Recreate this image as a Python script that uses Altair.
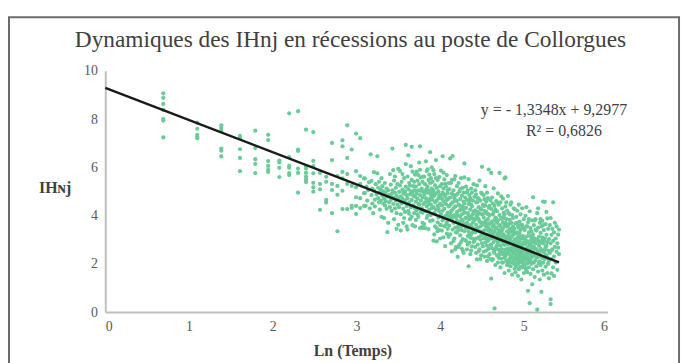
import altair as alt
import pandas as pd

# ---------------- data ----------------
# early recession days: x = Ln(Temps) for t = 2 .. 22, with the IHnj values of each column
col_x = [0.693, 1.099, 1.386, 1.609, 1.792, 1.946, 2.079, 2.197, 2.303, 2.398, 2.485,
         2.565, 2.639, 2.708, 2.773, 2.833, 2.890, 2.944, 2.996, 3.045, 3.091]
col_y = [
    [9.07, 8.88, 8.63, 8.38, 8.00, 7.94, 7.24],
    [7.85, 7.60, 7.35, 7.27, 7.21],
    [7.74, 7.63, 7.52, 6.78, 6.69, 6.45],
    [7.30, 7.21, 6.75, 6.39, 5.84],
    [7.52, 6.80, 6.34, 6.14, 5.76],
    [7.35, 7.13, 6.26, 6.06, 5.90, 5.81],
    [6.28, 6.20, 5.98, 5.60],
    [8.24, 6.42, 6.06, 5.98, 5.76, 5.68],
    [8.33, 6.73, 6.68, 5.95, 5.77, 4.95],
    [7.56, 6.05, 5.95, 5.77, 5.61, 5.50, 5.39],
    [7.46, 6.27, 6.05, 5.75, 5.36, 5.17, 4.99],
    [5.77, 5.31, 5.09, 4.24],
    [5.61, 5.40, 4.65, 4.54],
    [7.01, 6.30, 5.31, 5.06, 4.10],
    [5.64, 5.23, 4.86, 3.35],
    [7.12, 6.87, 5.81, 5.54, 5.03, 4.27],
    [7.74, 6.39, 5.72, 5.31, 4.27],
    [6.74, 5.23, 4.40, 4.32],
    [7.40, 5.84, 5.17, 4.76, 4.40, 4.07],
    [7.21, 5.64, 5.31, 4.72, 4.31],
    [5.54, 4.93, 4.40],
]

# dense cloud (Ln(Temps), IHnj) pairs, read band by band
cloud_31 = [(3.10,5.54),(3.10,4.93),(3.11,4.40),(3.12,5.20),(3.13,4.62),(3.14,5.05),(3.15,5.38),(3.16,4.30),
            (3.17,6.54),(3.18,5.44),(3.18,4.85),(3.19,5.12),(3.19,4.50),(3.20,4.10),
            (3.21,5.80),(3.21,5.02),(3.22,4.66),(3.22,4.38),(3.23,5.30),(3.24,4.88),(3.25,6.46),(3.25,5.75),
            (3.26,5.15),(3.26,4.72),(3.27,4.55),(3.27,5.40),(3.28,4.96),(3.28,4.25),(3.29,5.08),(3.29,4.62),
            (3.30,5.55),(3.30,3.95)]
cloud_33 = [(3.31,4.82),(3.31,5.22),(3.32,4.50),(3.32,5.00),(3.33,4.70),(3.33,3.90),(3.34,5.35),(3.34,4.42),
            (3.35,4.95),(3.35,4.60),(3.36,5.12),(3.36,4.28),(3.37,3.31),(3.37,4.78),(3.38,5.05),(3.38,3.70),
            (3.39,4.55),(3.39,4.85),(3.40,5.72),(3.40,4.35),
            (3.41,5.28),(3.41,4.65),(3.42,4.90),(3.42,4.20),(3.43,6.78),(3.43,5.05),(3.44,4.48),(3.44,4.75),
            (3.45,5.45),(3.45,3.85),(3.46,4.95),(3.46,4.30),(3.47,5.15),(3.47,4.62),(3.48,4.82),(3.48,4.10),
            (3.49,5.30),(3.49,4.45),(3.50,5.94),(3.50,4.70),(3.50,3.62),(3.46,5.62),(3.44,5.88),(3.48,3.45)]
cloud_35 = [(3.51,4.98),(3.51,4.35),(3.52,5.25),(3.52,4.60),(3.53,4.80),(3.53,4.05),(3.54,5.40),(3.54,4.50),
            (3.55,5.08),(3.55,4.70),(3.56,4.28),(3.56,3.70),(3.57,5.55),(3.57,4.90),(3.58,4.62),(3.58,4.15),
            (3.59,6.93),(3.59,6.13),(3.59,5.20),(3.60,4.85),(3.60,4.40),(3.60,3.55),(3.55,5.72),(3.53,3.38),
            (3.57,3.90),(3.52,5.85),(3.58,5.00),(3.56,4.95),
            (3.61,5.62),(3.61,4.72),(3.62,5.10),(3.62,4.20),(3.63,5.35),(3.63,4.55),(3.64,4.88),(3.64,3.85),
            (3.65,6.05),(3.65,5.00),(3.65,4.35),(3.66,5.48),(3.66,4.65),(3.67,5.82),(3.67,4.95),(3.67,3.60),
            (3.68,5.22),(3.68,4.42),(3.69,5.05),(3.69,4.10),(3.70,5.70),(3.70,4.78),(3.70,3.55),(3.62,6.50),
            (3.64,5.25),(3.66,3.95),(3.68,4.82),(3.63,4.08),(3.69,5.40),(3.61,3.42),(3.66,6.85),(3.70,4.30)]
cloud_37 = [(3.71,5.20),(3.71,4.58),(3.72,5.82),(3.72,4.90),(3.72,4.22),(3.73,5.45),(3.73,4.70),(3.74,5.05),
            (3.74,3.95),(3.75,6.20),(3.75,5.30),(3.75,4.45),(3.76,6.87),(3.76,4.85),(3.76,3.48),(3.77,5.58),
            (3.77,4.62),(3.78,5.12),(3.78,4.30),(3.79,5.40),(3.79,4.75),(3.79,3.70),(3.80,5.00),(3.80,4.48),
            (3.71,3.82),(3.73,4.05),(3.74,5.68),(3.76,5.90),(3.77,4.15),(3.78,3.52),(3.80,5.62),(3.80,3.48),
            (3.74,4.48),(3.77,5.02),(3.79,4.12),(3.72,5.00),
            (3.81,5.61),(3.81,4.88),(3.81,4.20),(3.82,5.30),(3.82,4.55),(3.82,3.48),(3.83,5.05),(3.83,4.72),
            (3.84,5.85),(3.84,4.38),(3.84,3.90),(3.85,5.20),(3.85,4.62),(3.86,5.48),(3.86,4.95),(3.86,3.44),
            (3.87,5.02),(3.87,4.25),(3.88,6.63),(3.88,5.35),(3.88,4.70),(3.89,4.45),(3.89,4.02),(3.90,6.00),
            (3.90,5.12),(3.90,4.80),(3.83,6.25),(3.85,4.00),(3.87,5.70),(3.89,5.55),(3.82,4.95),(3.86,4.48),
            (3.88,3.78),(3.84,5.10),(3.90,4.30),(3.81,3.65),(3.85,5.92),(3.87,4.60),(3.83,4.18),(3.89,4.88)]
cloud_39 = [(3.91,5.40),(3.91,4.65),(3.91,3.80),(3.92,5.05),(3.92,4.35),(3.92,2.96),(3.93,5.72),(3.93,4.82),
            (3.93,4.10),(3.94,5.25),(3.94,4.55),(3.94,3.55),(3.95,6.30),(3.95,4.92),(3.95,4.25),(3.96,5.15),
            (3.96,4.62),(3.96,2.93),(3.97,5.48),(3.97,4.40),(3.97,3.35),(3.98,5.00),(3.98,4.72),(3.98,3.92),
            (3.99,5.60),(3.99,4.18),(4.00,5.22),(4.00,4.50),(4.00,3.62),(3.91,4.95),(3.93,3.22),(3.95,5.55),
            (3.97,3.72),(3.99,4.85),(3.92,5.88),(3.94,4.05),(3.96,3.48),(3.98,4.30),(4.00,3.05),(3.99,3.40),
            (4.01,5.86),(4.01,4.85),(4.01,4.05),(4.02,5.30),(4.02,4.42),(4.02,3.38),(4.03,6.46),(4.03,4.95),
            (4.03,3.80),(4.04,5.12),(4.04,4.60),(4.04,3.10),(4.05,5.50),(4.05,4.28),(4.05,3.55),(4.06,4.78),
            (4.06,3.95),(4.06,2.73),(4.07,5.20),(4.07,4.48),(4.07,3.62),(4.08,5.68),(4.08,4.65),(4.08,3.25),
            (4.09,4.92),(4.09,4.12),(4.09,3.45),(4.10,5.35),(4.10,4.38),(4.10,3.85),(4.02,4.70),(4.04,3.92),
            (4.06,5.32),(4.08,4.02),(4.10,3.12),(4.03,4.20),(4.05,4.88),(4.07,4.00),(4.09,5.05),(4.01,3.60),
            (4.04,5.78),(4.06,4.50),(4.08,3.72),(4.10,4.70)]
cloud_41 = [(4.11,5.10),(4.11,4.40),(4.11,3.58),(4.12,6.37),(4.12,4.75),(4.12,3.22),(4.13,5.35),(4.13,4.18),
            (4.13,2.85),(4.14,4.92),(4.14,3.88),(4.14,2.52),(4.15,6.47),(4.15,4.55),(4.15,3.42),(4.16,5.05),
            (4.16,4.30),(4.16,3.70),(4.17,5.50),(4.17,4.02),(4.17,3.05),(4.18,5.64),(4.18,4.62),(4.18,3.50),
            (4.19,4.85),(4.19,3.92),(4.19,2.70),(4.20,5.22),(4.20,4.15),(4.20,3.30),(4.12,4.05),(4.14,5.48),
            (4.16,2.95),(4.18,4.38),(4.20,3.78),(4.11,3.95),(4.13,4.48),(4.15,3.98),(4.17,4.72),(4.19,3.30),
            (4.14,4.22),(4.16,4.85),(4.18,2.60),(4.20,4.60),
            (4.21,4.90),(4.21,4.02),(4.21,2.29),(4.22,5.35),(4.22,4.45),(4.22,3.40),(4.23,5.00),(4.23,3.75),
            (4.23,2.80),(4.24,4.68),(4.24,3.95),(4.24,3.18),(4.25,5.55),(4.25,4.25),(4.25,3.55),(4.26,4.82),
            (4.26,3.82),(4.26,2.62),(4.27,5.15),(4.27,4.38),(4.27,3.02),(4.28,4.58),(4.28,3.65),(4.28,2.45),
            (4.29,6.16),(4.29,5.58),(4.29,4.12),(4.29,3.35),(4.30,4.75),(4.30,3.90),(4.30,2.98),(4.22,3.60),
            (4.24,4.40),(4.26,4.05),(4.28,4.95),(4.21,3.50),(4.23,4.22),(4.25,2.90),(4.27,3.78),(4.29,4.50),
            (4.22,2.70),(4.24,5.10),(4.26,3.40),(4.28,4.25),(4.30,3.55),(4.27,2.55)]
cloud_43 = [(4.31,5.20),(4.31,4.32),(4.31,3.48),(4.32,4.65),(4.32,3.72),(4.32,2.60),(4.33,5.05),(4.33,4.10),
            (4.33,3.15),(4.34,5.51),(4.34,4.48),(4.34,1.90),(4.35,4.85),(4.35,3.85),(4.35,2.88),(4.36,4.25),
            (4.36,3.60),(4.36,2.40),(4.37,5.12),(4.37,3.95),(4.37,3.22),(4.38,4.95),(4.38,4.38),(4.38,2.72),
            (4.39,4.62),(4.39,3.70),(4.39,3.05),(4.40,5.30),(4.40,4.18),(4.40,3.40),(4.31,3.90),(4.33,2.80),
            (4.35,4.60),(4.37,2.55),(4.39,4.05),(4.32,4.95),(4.34,3.35),(4.36,4.72),(4.38,3.52),(4.40,2.90),
            (4.31,2.95),(4.33,3.62),(4.35,3.25),(4.37,4.45),(4.39,3.30),(4.34,4.00),(4.36,3.08),(4.38,3.88),
            (4.41,4.78),(4.41,3.80),(4.41,2.95),(4.42,5.05),(4.42,4.22),(4.42,3.30),(4.43,4.55),(4.43,3.62),
            (4.43,2.45),(4.44,5.25),(4.44,4.02),(4.44,2.18),(4.45,4.72),(4.45,3.45),(4.45,2.80),(4.46,4.35),
            (4.46,3.85),(4.46,3.10),(4.47,5.45),(4.47,4.08),(4.47,2.60),(4.48,4.62),(4.48,3.55),(4.48,3.00),
            (4.49,4.25),(4.49,3.72),(4.49,2.35),(4.50,6.02),(4.50,4.90),(4.50,3.35),(4.41,4.15),(4.43,4.88),
            (4.45,4.15),(4.47,3.35),(4.49,4.95),(4.42,2.70),(4.44,3.48),(4.46,2.52),(4.48,4.30),(4.50,2.85),
            (4.41,3.45),(4.43,3.05),(4.45,3.90),(4.47,3.75),(4.49,3.18),(4.42,3.88),(4.44,4.55),(4.46,4.70),
            (4.48,2.20),(4.50,4.05)]
cloud_45 = [(4.51,4.45),(4.51,3.62),(4.51,2.72),(4.52,4.85),(4.52,3.92),(4.52,3.05),(4.53,4.20),(4.53,3.40),
            (4.53,2.30),(4.54,5.22),(4.54,3.78),(4.54,2.88),(4.55,4.58),(4.55,3.55),(4.55,2.55),(4.56,4.08),
            (4.56,3.22),(4.56,2.12),(4.57,4.72),(4.57,3.85),(4.57,2.95),(4.58,5.91),(4.58,4.32),(4.58,3.48),
            (4.59,4.00),(4.59,3.12),(4.59,2.40),(4.60,4.62),(4.60,3.70),(4.60,2.78),(4.52,4.40),(4.54,4.42),
            (4.56,4.95),(4.58,2.62),(4.60,3.30),(4.51,3.25),(4.53,3.70),(4.55,3.05),(4.57,3.40),(4.59,3.65),
            (4.52,2.50),(4.54,3.15),(4.56,3.68),(4.58,4.05),(4.60,2.20),(4.51,4.05),(4.53,4.68),(4.55,4.15),
            (4.57,2.30),(4.59,4.40),(4.56,2.75),(4.58,3.00),
            (4.61,5.77),(4.61,4.28),(4.61,3.40),(4.61,1.39),(4.62,4.75),(4.62,3.75),(4.62,2.65),(4.63,4.05),
            (4.63,3.20),(4.63,2.20),(4.64,5.13),(4.64,3.62),(4.64,2.90),(4.65,4.40),(4.65,3.35),(4.65,0.15),
            (4.65,2.45),(4.66,3.92),(4.66,3.05),(4.66,1.95),(4.67,4.60),(4.67,3.50),(4.67,2.70),(4.68,4.18),
            (4.68,3.15),(4.68,2.35),(4.69,3.80),(4.69,2.88),(4.69,2.05),(4.70,4.45),(4.70,3.40),(4.70,2.58),
            (4.62,3.05),(4.63,4.50),(4.64,2.50),(4.66,4.25),(4.67,3.00),(4.68,3.70),(4.70,3.00),(4.61,2.80),
            (4.62,2.15),(4.63,3.55),(4.64,4.15),(4.65,3.80),(4.66,2.60),(4.67,3.88),(4.68,2.75),(4.69,4.92),
            (4.70,2.25),(4.64,3.25),(4.66,3.45),(4.68,4.55),(4.69,3.25)]
cloud_47 = [(4.71,5.77),(4.71,4.02),(4.71,3.18),(4.71,2.40),(4.72,4.55),(4.72,3.55),(4.72,2.75),(4.72,1.85),
            (4.73,3.90),(4.73,3.05),(4.73,2.22),(4.74,4.30),(4.74,3.40),(4.74,2.60),(4.75,4.70),(4.75,3.70),
            (4.75,2.90),(4.75,2.05),(4.76,4.12),(4.76,3.22),(4.76,2.45),(4.77,5.54),(4.77,3.58),(4.77,2.78),
            (4.77,1.62),(4.78,5.58),(4.78,4.38),(4.78,3.02),(4.78,2.30),(4.79,3.85),(4.79,2.95),(4.79,2.12),
            (4.80,4.21),(4.80,3.35),(4.80,2.62),(4.80,1.95),(4.71,2.95),(4.72,3.30),(4.73,4.80),(4.74,2.05),
            (4.75,3.15),(4.76,2.82),(4.77,4.05),(4.78,2.58),(4.79,3.55),(4.80,2.88),(4.71,3.60),(4.72,2.48),
            (4.73,3.35),(4.74,3.85),(4.75,2.40),(4.76,3.95),(4.77,2.25),(4.78,3.70),(4.79,2.40),(4.80,3.10),
            (4.73,2.60),(4.75,3.45),(4.77,3.12),(4.79,4.55),
            (4.81,4.81),(4.81,3.60),(4.81,2.80),(4.81,2.02),(4.82,4.10),(4.82,3.25),(4.82,2.45),(4.82,1.72),
            (4.83,3.82),(4.83,2.98),(4.83,2.20),(4.84,4.45),(4.84,3.45),(4.84,2.65),(4.84,1.90),(4.85,3.70),
            (4.85,2.88),(4.85,2.32),(4.86,4.02),(4.86,3.15),(4.86,2.55),(4.86,1.55),(4.87,3.55),(4.87,2.75),
            (4.87,2.08),(4.88,4.30),(4.88,3.30),(4.88,2.42),(4.89,4.27),(4.89,3.00),(4.89,2.18),(4.89,1.80),
            (4.90,3.68),(4.90,2.85),(4.90,2.30),(4.81,3.15),(4.82,2.85),(4.83,3.45),(4.84,3.05),(4.85,2.55),
            (4.86,2.90),(4.87,3.20),(4.88,2.65),(4.89,2.55),(4.90,3.25),(4.81,2.50),(4.82,2.15),(4.83,2.60),
            (4.84,2.35),(4.85,2.05),(4.86,2.25),(4.87,2.48),(4.88,2.00),(4.89,2.75),(4.90,2.00),(4.83,4.05),
            (4.85,3.35),(4.87,3.90),(4.89,3.45),(4.82,3.65),(4.84,2.85),(4.86,3.40),(4.88,2.85),(4.90,1.65),
            (4.85,4.55)]
cloud_49 = [(4.91,3.95),(4.91,3.05),(4.91,2.42),(4.91,1.90),(4.92,4.20),(4.92,3.30),(4.92,2.65),(4.92,2.05),
            (4.93,3.58),(4.93,2.85),(4.93,2.25),(4.93,1.50),(4.94,4.45),(4.94,3.15),(4.94,2.50),(4.94,1.78),
            (4.95,3.75),(4.95,2.95),(4.95,2.32),(4.96,4.05),(4.96,3.40),(4.96,2.70),(4.96,2.08),(4.97,3.62),
            (4.97,2.80),(4.97,2.15),(4.97,1.35),(4.98,4.30),(4.98,3.05),(4.98,2.48),(4.98,1.85),(4.99,3.48),
            (4.99,2.60),(4.99,2.00),(5.00,3.85),(5.00,2.90),(5.00,2.35),(5.00,1.62),(4.91,2.75),(4.92,2.90),
            (4.93,2.55),(4.94,2.75),(4.95,2.58),(4.96,2.40),(4.97,2.55),(4.98,2.75),(4.99,2.85),(5.00,2.55),
            (4.91,2.20),(4.92,2.35),(4.93,2.00),(4.94,2.20),(4.95,2.10),(4.96,1.88),(4.97,2.35),(4.98,2.20),
            (4.99,2.30),(5.00,2.12),(4.92,3.70),(4.94,3.50),(4.96,3.10),(4.98,3.60),(4.95,3.25),(4.99,3.15),
            (4.93,3.10)]
cloud_51 = [(5.01,3.40),(5.01,2.62),(5.01,1.95),(5.02,3.99),(5.02,2.82),(5.02,2.18),(5.03,3.55),(5.03,2.45),
            (5.03,1.72),(5.04,3.15),(5.04,2.68),(5.04,2.02),(5.05,3.72),(5.05,2.92),(5.05,2.25),(5.05,0.88),
            (5.06,3.30),(5.06,2.55),(5.06,1.85),(5.07,4.18),(5.07,2.78),(5.07,0.37),(5.07,2.10),(5.08,3.48),
            (5.08,2.40),(5.08,1.58),(5.09,3.02),(5.09,2.65),(5.09,2.00),(5.10,3.80),(5.10,2.30),(5.10,1.15),
            (5.01,2.30),(5.02,2.55),(5.03,2.95),(5.04,2.40),(5.05,2.05),(5.06,2.88),(5.07,2.45),(5.08,2.85),
            (5.09,2.25),(5.10,2.72),(5.01,3.05),(5.03,2.20),(5.04,3.55),(5.06,2.20),(5.08,2.12),(5.09,3.35),
            (5.02,1.82),(5.04,1.65),(5.06,3.85),(5.08,3.15),(5.10,3.12),(5.05,2.60),(5.03,4.35),
            (5.11,4.76),(5.11,3.22),(5.11,2.48),(5.11,1.78),(5.12,3.60),(5.12,2.70),(5.12,2.05),(5.13,3.05),
            (5.13,2.35),(5.13,1.45),(5.14,3.85),(5.14,2.85),(5.14,2.15),(5.15,3.38),(5.15,2.60),(5.15,1.90),
            (5.16,4.10),(5.16,2.95),(5.16,0.10),(5.16,2.28),(5.17,3.50),(5.17,2.50),(5.17,1.68),(5.18,3.12),
            (5.18,2.75),(5.18,2.02),(5.19,3.70),(5.19,2.40),(5.19,1.35),(5.20,3.28),(5.20,2.62),(5.20,1.95),
            (5.12,2.95),(5.13,2.62),(5.14,3.42),(5.15,2.30),(5.17,2.95),(5.18,2.30),(5.19,2.88),(5.20,3.85),
            (5.11,2.90),(5.13,3.80),(5.15,3.00),(5.17,4.30),(5.19,2.10)]
cloud_53 = [(5.21,3.55),(5.21,2.55),(5.21,0.84),(5.22,3.10),(5.22,2.25),(5.22,1.72),(5.23,4.58),(5.23,2.85),
            (5.23,2.05),(5.24,3.40),(5.24,2.48),(5.24,1.55),(5.25,4.57),(5.25,3.05),(5.25,2.20),(5.26,3.65),
            (5.26,2.70),(5.26,1.88),(5.27,3.20),(5.27,2.35),(5.28,3.88),(5.28,2.90),(5.28,1.62),(5.29,3.45),
            (5.29,2.55),(5.30,3.02),(5.30,2.12),(5.30,1.40),(5.22,3.78),(5.24,2.95),(5.26,2.35),(5.28,2.25),
            (5.21,2.95),(5.23,3.60),(5.25,2.60),(5.27,2.75),(5.29,2.00),(5.27,4.15),
            (5.31,3.60),(5.31,2.45),(5.32,3.90),(5.32,2.85),(5.32,0.53),(5.32,0.33),(5.33,3.20),(5.33,2.20),
            (5.33,1.60),(5.34,3.45),(5.34,2.60),(5.35,4.55),(5.35,2.95),(5.35,1.85),(5.36,3.30),(5.36,2.30),
            (5.37,2.70),(5.37,3.70),(5.38,2.05),(5.38,3.05),(5.39,2.50),(5.39,3.55),(5.40,1.75),(5.40,2.85),
            (5.41,3.21),(5.41,2.67),(5.42,2.40),(5.42,3.42),(5.33,2.55),(5.36,1.50)]

# Excel linear trendline shown on the chart
slope = -1.3348
intercept = 9.2977
trend_x = [0.0, 5.42]
equation_line1 = "y = - 1,3348x + 9,2977"
equation_line2 = "R² = 0,6826"
title_text = "Dynamiques des IHnj en récessions au poste de Collorgues"

x_ticks = [0, 1, 2, 3, 4, 5, 6]
y_ticks = [0, 2, 4, 6, 8, 10]

# ---------------- tables ----------------
rows = []
for cx, ys in zip(col_x, col_y):
    for v in ys:
        rows.append({"x": cx, "y": v})
for band in [cloud_31, cloud_33, cloud_35, cloud_37, cloud_39, cloud_41, cloud_43,
             cloud_45, cloud_47, cloud_49, cloud_51, cloud_53]:
    for px, py in band:
        rows.append({"x": px, "y": py})
pts = pd.DataFrame(rows)
trend = pd.DataFrame({"x": trend_x, "y": [slope * v + intercept for v in trend_x]})

SERIF = "Liberation Serif"
GREEN = "#6acb99"
TXT = "#404040"

xscale = alt.Scale(domain=[0, 6], nice=False, zero=False)
yscale = alt.Scale(domain=[0, 10], nice=False, zero=False)

points = alt.Chart(pts).mark_circle(size=18, color=GREEN, opacity=1).encode(
    x=alt.X("x:Q", scale=xscale,
            axis=alt.Axis(values=x_ticks, format="d", title="Ln (Temps)", titleX=249, titleY=39,
                          titleBaseline="middle", titleAlign="center")),
    y=alt.Y("y:Q", scale=yscale,
            axis=alt.Axis(values=y_ticks, format="d", title="IHɴj", titleAngle=0, titleX=-51,
                          titleY=118, titleBaseline="middle", titleAlign="center")),
)

line = alt.Chart(trend).mark_line(color="#1a1a1a", strokeWidth=2.5).encode(
    x=alt.X("x:Q", scale=xscale), y=alt.Y("y:Q", scale=yscale)
)

one = pd.DataFrame({"a": [0]})

eq1 = alt.Chart(one).mark_text(font=SERIF, fontSize=16, color=TXT, align="center",
                               baseline="alphabetic", text=equation_line1).encode(
    x=alt.value(452), y=alt.value(44))
eq2 = alt.Chart(one).mark_text(font=SERIF, fontSize=16, color=TXT, align="center",
                               baseline="alphabetic", text=equation_line2).encode(
    x=alt.value(462), y=alt.value(66))

title = alt.Chart(one).mark_text(font=SERIF, fontSize=23.5, color=TXT, align="center",
                                 baseline="alphabetic", text=title_text).encode(
    x=alt.value(247), y=alt.value(-24))

frame = alt.Chart(one).mark_rect(fill=None, stroke="#6b6b6b", strokeWidth=2).encode(
    x=alt.value(-97), x2=alt.value(578), y=alt.value(-54), y2=alt.value(320)
)

chart = alt.layer(frame, points, line, eq1, eq2, title).properties(
    width=506, height=243,
    padding={"left": 98, "top": 62, "right": 76, "bottom": 50},
    autosize=alt.AutoSizeParams(type="none"),
).configure_view(stroke=None).configure_axis(
    grid=False, ticks=False, domainColor="#bfbfbf", domainWidth=2,
    labelFont=SERIF, labelFontSize=14, labelColor="#595959", labelPadding=8,
    titleFont=SERIF, titleFontSize=16, titleFontWeight="bold", titleColor=TXT,
)

chart.save("out.html", embed_options={"renderer": "svg", "actions": False})
